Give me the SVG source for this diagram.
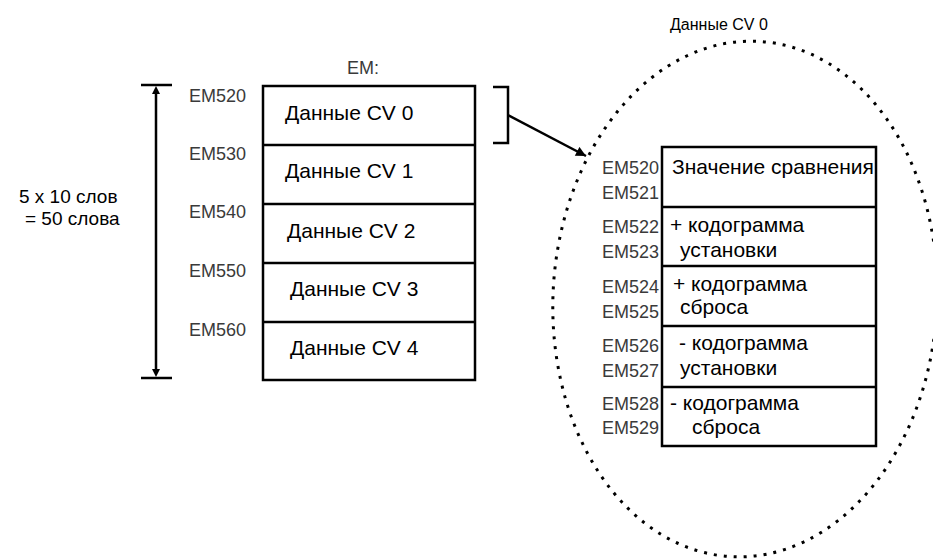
<svg xmlns="http://www.w3.org/2000/svg" width="933" height="560" viewBox="0 0 933 560">
<defs>
<marker id="ah2" viewBox="0 0 10 10" refX="10" refY="5" markerWidth="12" markerHeight="10" markerUnits="userSpaceOnUse" orient="auto">
<path d="M0,0 L10,5 L0,10 z" fill="#000"/>
</marker>
</defs>
<style>
.box{fill:#fff;stroke:#000;stroke-width:2.5}
.div{stroke:#000;stroke-width:2.5}
.t{font-family:"Liberation Sans",Arial,sans-serif;font-size:21px;fill:#000}
.em{font-family:"Liberation Sans",Arial,sans-serif;font-size:18px;fill:#3a3a3a}
.ln{stroke:#000;stroke-width:2.5;fill:none}
</style>
<rect width="933" height="560" fill="#fff"/>
<g id="ellipse">
<ellipse cx="745" cy="299" rx="192" ry="258" transform="rotate(3 745 299)" fill="none" stroke="#000" stroke-width="3" stroke-dasharray="3 7"/>
<text class="t" x="670" y="30" style="font-size:16px">Данные CV 0</text>
</g>
<g id="dimension">
<line class="ln" x1="141" y1="85" x2="172" y2="85"/>
<line class="ln" x1="141" y1="378" x2="172" y2="378"/>
<line class="ln" x1="156" y1="92" x2="156" y2="371"/>
<path d="M156,86 L152,94 L160,94 z" fill="#000"/>
<path d="M156,377 L152,369 L160,369 z" fill="#000"/>
<text class="t" x="19" y="203" style="font-size:19px">5 x 10 слов</text>
<text class="t" x="25" y="225" style="font-size:19px">= 50 слова</text>
</g>
<g id="em-block">
<text class="em" x="347" y="74">EM:</text>
<rect class="box" x="263" y="86" width="212" height="294"/>
<line class="div" x1="263" y1="145" x2="475" y2="145"/>
<line class="div" x1="263" y1="204" x2="475" y2="204"/>
<line class="div" x1="263" y1="263" x2="475" y2="263"/>
<line class="div" x1="263" y1="322" x2="475" y2="322"/>
<text class="em" x="189" y="102">EM520</text>
<text class="em" x="189" y="160">EM530</text>
<text class="em" x="189" y="218">EM540</text>
<text class="em" x="189" y="277">EM550</text>
<text class="em" x="189" y="336">EM560</text>
<text class="t" x="285" y="120">Данные CV 0</text>
<text class="t" x="285" y="178">Данные CV 1</text>
<text class="t" x="287" y="238">Данные CV 2</text>
<text class="t" x="290" y="296">Данные CV 3</text>
<text class="t" x="290" y="355">Данные CV 4</text>
</g>
<g id="connectors">
<path class="ln" d="M493,87 L508,87 L508,143 L493,143"/>
<line class="ln" x1="508" y1="115" x2="586" y2="156" marker-end="url(#ah2)"/>
</g>
<g id="cv0-block">
<rect class="box" x="662" y="147" width="214" height="299"/>
<line class="div" x1="662" y1="207" x2="876" y2="207"/>
<line class="div" x1="662" y1="266" x2="876" y2="266"/>
<line class="div" x1="662" y1="326" x2="876" y2="326"/>
<line class="div" x1="662" y1="387" x2="876" y2="387"/>
<text class="em" x="602" y="174">EM520</text>
<text class="em" x="602" y="199">EM521</text>
<text class="em" x="602" y="233">EM522</text>
<text class="em" x="602" y="258">EM523</text>
<text class="em" x="602" y="293">EM524</text>
<text class="em" x="602" y="318">EM525</text>
<text class="em" x="602" y="352">EM526</text>
<text class="em" x="602" y="377">EM527</text>
<text class="em" x="602" y="410">EM528</text>
<text class="em" x="602" y="434">EM529</text>
<text class="t" x="672" y="174">Значение сравнения</text>
<text class="t" x="670" y="232">+ кодограмма</text>
<text class="t" x="680" y="257">установки</text>
<text class="t" x="673" y="291">+ кодограмма</text>
<text class="t" x="680" y="314">сброса</text>
<text class="t" x="679" y="350">- кодограмма</text>
<text class="t" x="680" y="375">установки</text>
<text class="t" x="670" y="410">- кодограмма</text>
<text class="t" x="692" y="434">сброса</text>
</g>
</svg>
